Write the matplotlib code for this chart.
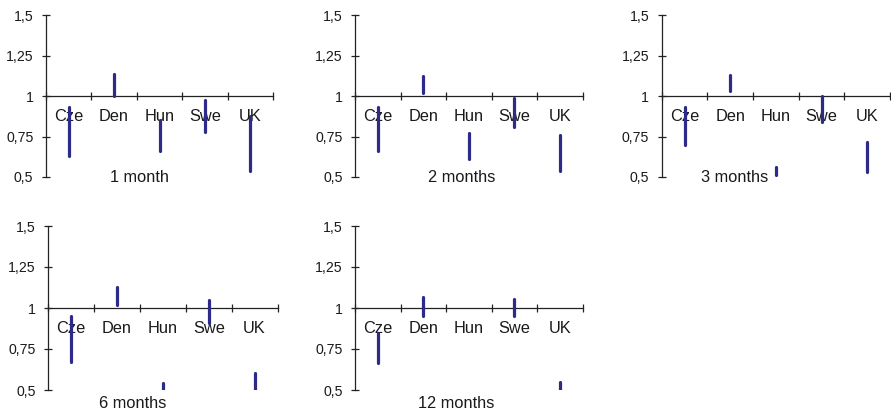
import numpy as np
import matplotlib
matplotlib.use("Agg")
import matplotlib.pyplot as plt

plt.rcParams['font.family'] = ['Liberation Sans', 'DejaVu Sans']

categories = ["Cze", "Den", "Hun", "Swe", "UK"]
y_ticks = [0.5, 0.75, 1.0, 1.25, 1.5]
y_tick_labels = ["0,5", "0,75", "1", "1,25", "1,5"]
panel_titles = ["1 month", "2 months", "3 months", "6 months", "12 months"]

# low / high ends of each range, per horizon
low_1m = [0.63, 1.00, 0.66, 0.78, 0.54]
high_1m = [0.93, 1.135, 0.855, 0.975, 0.875]
low_2m = [0.66, 1.02, 0.61, 0.81, 0.535]
high_2m = [0.935, 1.125, 0.77, 0.99, 0.76]
low_3m = [0.70, 1.03, 0.51, 0.84, 0.53]
high_3m = [0.935, 1.13, 0.56, 1.0, 0.715]
low_6m = [0.67, 1.02, 0.50, 0.91, 0.50]
high_6m = [0.95, 1.13, 0.54, 1.05, 0.605]
low_12m = [0.665, 0.95, np.nan, 0.95, 0.50]
high_12m = [0.85, 1.065, np.nan, 1.055, 0.55]

lows = [low_1m, low_2m, low_3m, low_6m, low_12m]
highs = [high_1m, high_2m, high_3m, high_6m, high_12m]

W, H = 891, 413
fig = plt.figure(figsize=(W / 100, H / 100), dpi=100)

# axes rectangles in pixels: (left, top, right, bottom)
rects = [
    (46, 15.3, 273, 177),
    (355, 15.3, 582.5, 177),
    (661.7, 15.3, 890, 177),
    (48.3, 226, 277.5, 390),
    (355, 226, 582.5, 390),
]
label_pos = [(140, 177.5), (461.7, 177.5), (735, 177.5), (132.7, 403), (455.7, 403)]

bar_color = "#2E2A8A"
axis_color = "#222222"
text_color = "#1a1a1a"

for i in range(5):
    l, t, r, b = rects[i]
    ax = fig.add_axes([l / W, 1 - b / H, (r - l) / W, (b - t) / H])
    ax.set_facecolor("none")
    x = np.arange(len(categories)) + 0.5
    lo = np.array(lows[i], dtype=float)
    hi = np.array(highs[i], dtype=float)
    m = ~np.isnan(lo)
    ax.vlines(x[m], lo[m], hi[m], colors=bar_color, linewidth=2.3,
              capstyle='round', zorder=3)
    ax.set_xlim(0, len(categories))
    ax.set_ylim(0.5, 1.5)
    for s in ["top", "right"]:
        ax.spines[s].set_visible(False)
    ax.spines["bottom"].set_position(("data", 1.0))
    ax.spines["bottom"].set_color(axis_color)
    ax.spines["left"].set_color(axis_color)
    ax.spines["bottom"].set_linewidth(0.9)
    ax.spines["left"].set_linewidth(0.9)
    ax.set_xticks(np.arange(len(categories) + 1))
    ax.set_xticklabels([])
    ax.set_xticks(x, minor=True)
    ax.set_xticklabels(categories, minor=True, fontsize=11.8, color=text_color)
    ax.tick_params(axis="x", which="major", direction="inout", length=6,
                   width=0.9, color=axis_color)
    ax.tick_params(axis="x", which="minor", length=0, pad=9.5)
    ax.set_yticks(y_ticks)
    ax.set_yticklabels(y_tick_labels, fontsize=10.2, color=text_color)
    ax.tick_params(axis="y", direction="inout", length=6, width=0.9,
                   color=axis_color, pad=6)
    lx, ly = label_pos[i]
    fig.text(lx / W, 1 - ly / H, panel_titles[i], ha="center", va="center",
             fontsize=11.8, color=text_color)

fig.savefig("out.png", dpi=100)
